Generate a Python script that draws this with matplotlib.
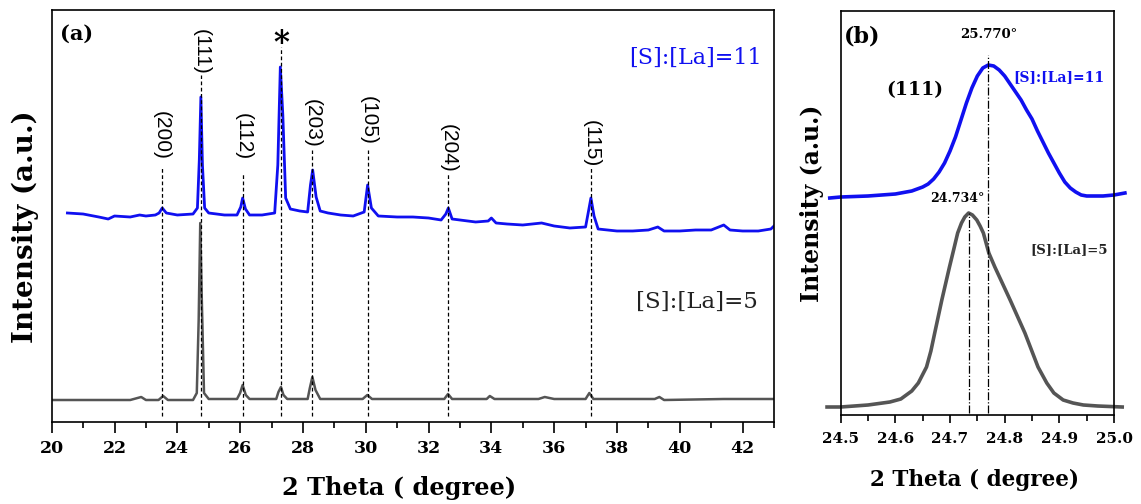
import matplotlib
matplotlib.use("Agg")
import matplotlib.pyplot as plt
from matplotlib.ticker import MultipleLocator

# ---- panel (a): full XRD patterns (intensity in arbitrary units) ----
s11_x = [20.5, 21.0, 21.5, 21.8, 22.0, 22.5, 22.8, 23.0, 23.3, 23.42, 23.52, 23.65,
         24.0, 24.5, 24.64, 24.70, 24.75, 24.80, 24.87, 25.0, 25.5, 25.9, 26.02, 26.08,
         26.17, 26.3, 26.7, 27.1, 27.2, 27.28, 27.36, 27.45, 27.6, 27.9, 28.15, 28.24,
         28.31, 28.42, 28.55, 28.8, 29.2, 29.6, 29.95, 30.06, 30.18, 30.4, 31.0, 31.5,
         32.0, 32.4, 32.55, 32.63, 32.75, 33.0, 33.5, 33.9, 34.0, 34.15, 34.5, 35.0,
         35.6, 36.0, 36.5, 37.0, 37.1, 37.17, 37.27, 37.4, 38.0, 38.5, 39.0, 39.3,
         39.5, 40.0, 40.5, 41.0, 41.4, 41.6, 42.0, 42.5, 42.9, 43.0]
s11_y = [209, 208, 205, 203, 206, 205, 207, 206, 207, 209, 214, 209,
         207, 208, 214, 262, 325, 257, 214, 209, 207, 207, 215, 224,
         213, 207, 207, 209, 257, 355, 307, 224, 213, 211, 210, 237,
         252, 225, 211, 209, 207, 206, 210, 237, 214, 206, 205, 205,
         204, 202, 208, 214, 203, 202, 200, 201, 204, 199, 198, 197,
         199, 196, 194, 195, 212, 224, 206, 193, 191, 191, 192, 195,
         191, 191, 192, 192, 197, 192, 191, 191, 193, 196]

s5_x = [20.0, 22.5, 22.85, 23.0, 23.4, 23.55, 23.7, 24.5, 24.62, 24.68, 24.73, 24.78,
        24.85, 25.0, 25.9, 26.0, 26.08, 26.18, 26.3, 27.15, 27.22, 27.3, 27.38, 27.5,
        28.15, 28.22, 28.3, 28.4, 28.55, 29.9, 30.05, 30.2, 32.5, 32.62, 32.75, 33.85,
        33.95, 34.1, 35.5, 35.7, 36.0, 37.0, 37.12, 37.25, 39.2, 39.35, 39.5, 41.4, 43.0]
s5_y = [22, 22, 25, 22, 22, 26, 22, 22, 29, 102, 199, 122,
        29, 23, 23, 29, 37, 27, 23, 23, 30, 35, 27, 23,
        23, 34, 45, 32, 23, 23, 27, 23, 23, 28, 23, 23,
        26, 23, 23, 25, 23, 23, 29, 23, 23, 25, 22, 23, 23]

peak_pos = [23.5, 24.75, 26.1, 27.3, 28.3, 30.07, 32.63, 37.17]
peak_top = [255, 347, 249, 375, 272, 272, 249, 254]
peak_lbl = ["(200)", "(111)", "(112)", "*", "(203)", "(105)", "(204)", "(115)"]
lbl_y = [262, 347, 262, 378, 274, 277, 249, 255]

# ---- panel (b): zoom on the (111) reflection ----
b11_x = [24.48, 24.5, 24.55, 24.6, 24.63, 24.65, 24.66, 24.67, 24.68, 24.69, 24.70,
         24.71, 24.72, 24.73, 24.74, 24.75, 24.76, 24.77, 24.78, 24.79, 24.80, 24.81,
         24.82, 24.83, 24.84, 24.85, 24.86, 24.87, 24.88, 24.89, 24.90, 24.91, 24.92,
         24.93, 24.94, 24.95, 24.98, 25.0, 25.02]
b11_y = [217, 218, 219, 221, 224, 228, 231, 236, 243, 252, 264,
         278, 295, 312, 327, 339, 347, 350, 349, 345, 339, 331,
         323, 315, 305, 296, 284, 273, 262, 252, 242, 233, 227,
         223, 220, 219, 219, 220, 222]

b5_x = [24.475, 24.5, 24.55, 24.59, 24.61, 24.63, 24.642, 24.657, 24.665, 24.672,
        24.685, 24.699, 24.707, 24.714, 24.721, 24.727, 24.734, 24.741, 24.749, 24.755,
        24.761, 24.771, 24.782, 24.81, 24.837, 24.861, 24.877, 24.89, 24.907, 24.925,
        24.944, 24.97, 25.015]
b5_y = [8, 8, 10, 13, 16, 24, 32, 48, 64, 82,
        115, 148, 166, 182, 192, 198, 202, 200, 195, 189,
        182, 162, 148, 115, 82, 48, 32, 22, 15, 12,
        10, 9, 8]

BLUE = "#1010f0"
GRAY = "#555555"
DARK = "#222222"

plt.rcParams["font.family"] = ["DejaVu Serif"]
plt.rcParams["font.weight"] = "bold"

W, H = 1141, 504
fig = plt.figure(figsize=(W / 100, H / 100), dpi=100)

def px(x, y):
    return x / W, 1 - y / H

ax = fig.add_axes([51.7 / W, 1 - 422 / H, (774 - 51.7) / W, (422 - 9.5) / H])
ax.plot(s11_x, s11_y, color=BLUE, lw=2.0)
ax.plot(s5_x, s5_y, color=GRAY, lw=1.8)
for x, top, lab, ly in zip(peak_pos, peak_top, peak_lbl, lbl_y):
    ax.plot([x, x], [6, top], color="black", lw=0.9, ls=(0, (3, 2)))
    if lab == "*":
        ax.text(x, ly, lab, ha="center", va="center", fontsize=22, fontweight="bold")
    else:
        ax.text(x, ly, lab, ha="center", va="bottom", rotation=-90, fontsize=15,
                family="Liberation Sans", fontweight="normal")
ax.set_xlim(20, 43)
ax.set_ylim(0, 412.5)
ax.xaxis.set_major_locator(MultipleLocator(2))
ax.xaxis.set_minor_locator(MultipleLocator(1))
ax.tick_params(axis="x", which="major", direction="out", length=8, width=1.2,
               labelsize=12.5, pad=5)
ax.tick_params(axis="x", which="minor", direction="out", length=4, width=1.2)
ax.set_yticks([])
for sp in ax.spines.values():
    sp.set_linewidth(1.2)
ax.text(0.012, 0.94, "(a)", transform=ax.transAxes, fontsize=15, ha="left", va="center")
fig.text(*px(762, 58), "[S]:[La]=11", fontsize=16, color=BLUE,
         ha="right", va="center", fontweight="normal")
fig.text(*px(758, 302), "[S]:[La]=5", fontsize=16.5, color=DARK,
         ha="right", va="center", fontweight="normal")
fig.text(*px(399, 488), "2 Theta ( degree)", ha="center", va="center", fontsize=17.3)
fig.text(*px(25, 227), "Intensity (a.u.)", ha="center", va="center", fontsize=20,
         rotation=90)

bx = fig.add_axes([840.7 / W, 1 - 415 / H, (1114 - 840.7) / W, (415 - 11) / H])
bx.plot(b11_x, b11_y, color=BLUE, lw=2.6, clip_on=False)
bx.plot(b5_x, b5_y, color=GRAY, lw=2.6, clip_on=False)
bx.plot([24.770, 24.770], [2, 360], color="black", lw=0.9, ls="-.")
bx.plot([24.734, 24.734], [2, 202], color="black", lw=0.9, ls="-.")
bx.set_xlim(24.5, 25.0)
bx.set_ylim(0, 404)
bx.xaxis.set_major_locator(MultipleLocator(0.1))
bx.xaxis.set_minor_locator(MultipleLocator(0.05))
bx.xaxis.set_major_formatter(plt.FuncFormatter(lambda v, p: f"{v:.1f}"))
bx.tick_params(axis="x", which="major", direction="out", length=6, width=1.2,
               labelsize=11, pad=6)
bx.tick_params(axis="x", which="minor", direction="out", length=4, width=1.2)
bx.set_yticks([])
for sp in bx.spines.values():
    sp.set_linewidth(1.2)
fig.text(*px(862, 37), "(b)", ha="center", va="center", fontsize=16)
fig.text(*px(989, 35), "25.770\u00b0", ha="center", va="center", fontsize=9.5)
fig.text(*px(915, 90), "(111)", ha="center", va="center", fontsize=13.5)
fig.text(*px(1059, 77), "[S]:[La]=11", ha="center", va="center", fontsize=10, color=BLUE)
fig.text(*px(957, 199), "24.734\u00b0", ha="center", va="center", fontsize=9)
fig.text(*px(1069, 250), "[S]:[La]=5", ha="center", va="center", fontsize=9.5,
         color=DARK)
fig.text(*px(974, 480), "2 Theta ( degree)", ha="center", va="center", fontsize=15.5)
fig.text(*px(812, 203), "Intensity (a.u.)", ha="center", va="center", fontsize=17,
         rotation=90)

fig.savefig("out.png", dpi=100)
